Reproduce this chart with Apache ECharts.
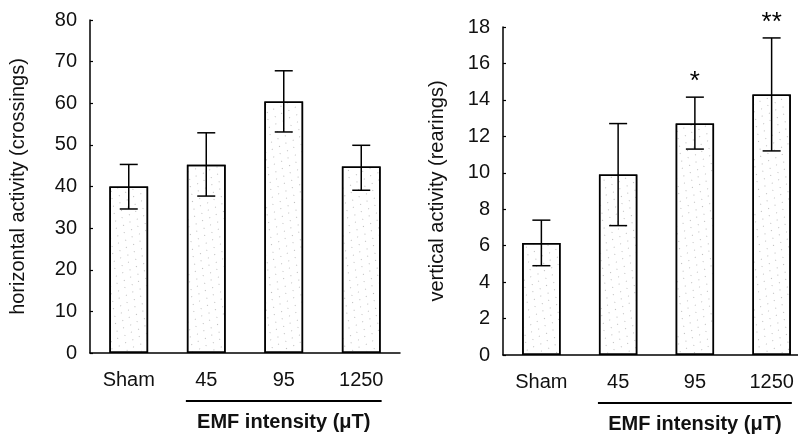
<!DOCTYPE html>
<html>
<head>
	<meta charset="utf-8"/>
	<script src="https://cdn.jsdelivr.net/npm/echarts@6/dist/echarts.min.js"></script>
	<style>
		html, body {
			margin: 0;
			padding: 0;
			background: #fff;
		}
		#chart {
			width: 798px;
			height: 435px;
		}
	</style>
	<title>EMF activity</title>
</head>
<body>
	<div id="chart"></div>
	<script>
		// categories and values
		const categories = ['Sham', '45', '95', '1250'];

		const horizMean = [40.0, 45.2, 60.4, 44.8];
		const horizLow = [34.6, 37.7, 53.1, 39.1];
		const horizHigh = [45.3, 52.9, 67.8, 49.9];

		const vertMean = [6.15, 9.9, 12.7, 14.3];
		const vertLow = [4.9, 7.1, 11.3, 11.2];
		const vertHigh = [7.4, 12.7, 14.15, 17.4];
		const vertSig = ['', '', '*', '**'];

		const horizTicks = {min: 0, max: 80, interval: 10};
		const vertTicks = {min: 0, max: 18, interval: 2};

		const FONT = '"Liberation Sans", Arial, sans-serif';

		// light dotted fill like the scanned bars
		const dots = {
			symbol: 'rect',
			symbolSize: 1,
			color: 'rgba(90,90,90,0.4)',
			dashArrayX: [[1, 8], [0, 4, 1, 4]],
			dashArrayY: [1, 5],
			rotation: 0.5
		};

		function errorItem(params, api){
			let x = api.value(0);
			let top = api.coord([x, api.value(2)]);
			let bot = api.coord([x, api.value(1)]);
			let w = 9;
			let st = {stroke: '#000', lineWidth: 1.5};
			let kids = [
				{type: 'line', shape: {x1: top[0], y1: top[1], x2: bot[0], y2: bot[1]}, style: st},
				{type: 'line', shape: {x1: top[0] - w, y1: top[1], x2: top[0] + w, y2: top[1]}, style: st},
				{type: 'line', shape: {x1: bot[0] - w, y1: bot[1], x2: bot[0] + w, y2: bot[1]}, style: st}
			];
			let sig = api.value(3);
			if(sig){
				kids.push({
					type: 'text',
					style: {
						x: top[0], y: top[1] - 15,
						text: sig,
						align: 'center', verticalAlign: 'middle',
						fontSize: 26, fontFamily: FONT, fill: '#000'
					}
				});
			}
			return {type: 'group', children: kids};
		}

		function yAxis(idx, name, ticks, gap){
			return {
				type: 'value',
				gridIndex: idx,
				min: ticks.min, max: ticks.max, interval: ticks.interval,
				name: name,
				nameLocation: 'middle',
				nameGap: gap,
				nameTextStyle: {fontSize: 20, fontFamily: FONT, color: '#111'},
				axisLine: {show: true, lineStyle: {color: '#000', width: 1.5}},
				axisTick: {show: true, inside: true, length: 3, lineStyle: {color: '#000', width: 1.2}},
				axisLabel: {fontSize: 20, fontFamily: FONT, color: '#111', margin: 13},
				splitLine: {show: false}
			};
		}

		function xAxis(idx){
			return {
				type: 'category',
				gridIndex: idx,
				data: categories,
				boundaryGap: true,
				axisLine: {show: true, lineStyle: {color: '#000', width: 1.5}},
				axisTick: {show: false},
				axisLabel: {fontSize: 20, fontFamily: FONT, color: '#111', margin: 17}
			};
		}

		function barSeries(idx, values){
			return {
				type: 'bar',
				xAxisIndex: idx, yAxisIndex: idx,
				data: values,
				barWidth: '50%',
				itemStyle: {color: '#fff', borderColor: '#000', borderWidth: 1.5, decal: dots},
				z: 2
			};
		}

		function errSeries(idx, low, high, sig){
			return {
				type: 'custom',
				xAxisIndex: idx, yAxisIndex: idx,
				renderItem: errorItem,
				encode: {x: 0, y: [1, 2]},
				data: low.map((v, i) => [i, v, high[i], sig ? sig[i] : '']),
				z: 3
			};
		}

		let chart = echarts.init(document.querySelector('#chart'), null, {renderer: 'canvas'});
		chart.setOption({
			animation: false,
			backgroundColor: '#fff',
			grid: [
				{left: 90, top: 20, width: 310, height: 333, outerBoundsMode: 'none'},
				{left: 503, top: 27, width: 307, height: 328, outerBoundsMode: 'none'}
			],
			xAxis: [xAxis(0), xAxis(1)],
			yAxis: [
				yAxis(0, 'horizontal activity (crossings)', horizTicks, 62),
				yAxis(1, 'vertical activity (rearings)', vertTicks, 56)
			],
			series: [
				barSeries(0, horizMean),
				errSeries(0, horizLow, horizHigh),
				barSeries(1, vertMean),
				errSeries(1, vertLow, vertHigh, vertSig)
			]
		});

		// "EMF intensity" brackets under the exposed groups
		function bracket(idx){
			let a = chart.convertToPixel({xAxisIndex: idx}, categories[1]);
			let b = chart.convertToPixel({xAxisIndex: idx}, categories[3]);
			let y0 = chart.convertToPixel({yAxisIndex: idx}, 0);
			let half = (b - a) / 8 + 1;
			return [
				{type: 'line', shape: {x1: a - half, y1: y0 + 48, x2: b + half, y2: y0 + 48},
					style: {stroke: '#000', lineWidth: 2}},
				{type: 'text', style: {x: (a + b) / 2, y: y0 + 69, text: 'EMF intensity (μT)',
					align: 'center', verticalAlign: 'middle', fontSize: 20, fontWeight: 'bold',
					fontFamily: FONT, fill: '#111'}}
			];
		}
		chart.setOption({graphic: bracket(0).concat(bracket(1))});
	</script>
</body>
</html>
